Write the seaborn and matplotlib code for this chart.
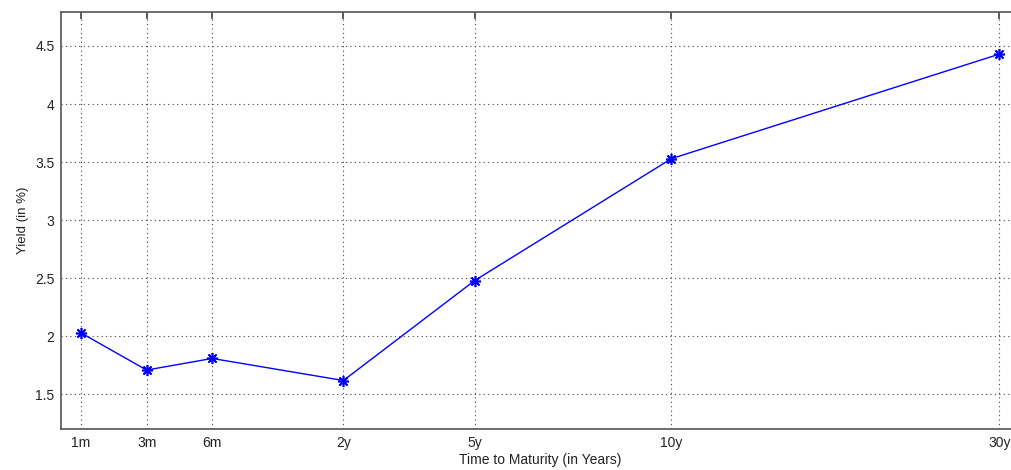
import matplotlib
matplotlib.use("Agg")
import matplotlib.pyplot as plt
import seaborn as sns
import pandas as pd

maturities = ["1m", "3m", "6m", "2y", "5y", "10y", "30y"]
positions = [1, 2, 3, 5, 7, 10, 15]
yields = [2.03, 1.71, 1.81, 1.62, 2.48, 3.53, 4.43]
yticks = [1.5, 2, 2.5, 3, 3.5, 4, 4.5]
ytick_labels = ["1.5", "2", "2.5", "3", "3.5", "4", "4.5"]

sns.set_style("white")
plt.rcParams['font.family'] = ['Liberation Sans', 'DejaVu Sans']

df = pd.DataFrame({"pos": positions, "yield": yields})

W, H = 1011, 470
fig = plt.figure(figsize=(W / 100, H / 100), dpi=100)
unit = 65.6
x0 = 0.7
x1 = 15.3
left_px = 81 - (1 - x0) * unit
width_px = (x1 - x0) * unit
ax = fig.add_axes([left_px / W, (H - 429.3) / H, width_px / W, (429.3 - 12.3) / H])

sns.lineplot(data=df, x="pos", y="yield", ax=ax, color=(0, 0, 1), marker=(8, 2, 0),
             markersize=8, markeredgecolor=(0, 0, 1), markeredgewidth=1.2,
             linewidth=1.0)

ax.set_xlim(x0, x1)
ax.set_ylim(1.2, 4.79)
ax.set_xticks(positions)
ax.set_xticklabels(maturities)
ax.set_yticks(yticks)
ax.set_yticklabels(ytick_labels)

ax.grid(True, linestyle=(0, (1, 3)), color="#444444", linewidth=0.8)
for s in ax.spines.values():
    s.set_color("#555555")
    s.set_linewidth(1.2)
ax.tick_params(axis="both", direction="in", length=5, width=1.2, color="#444444",
               labelsize=10, labelcolor="#222222", top=True, right=True, pad=5)

ax.set_xlabel("Time to Maturity (in Years)", fontsize=10, color="#222222", labelpad=2)
ax.set_ylabel("Yield (in %)", fontsize=9.5, color="#222222", labelpad=4)

fig.savefig("out.png", dpi=100)
